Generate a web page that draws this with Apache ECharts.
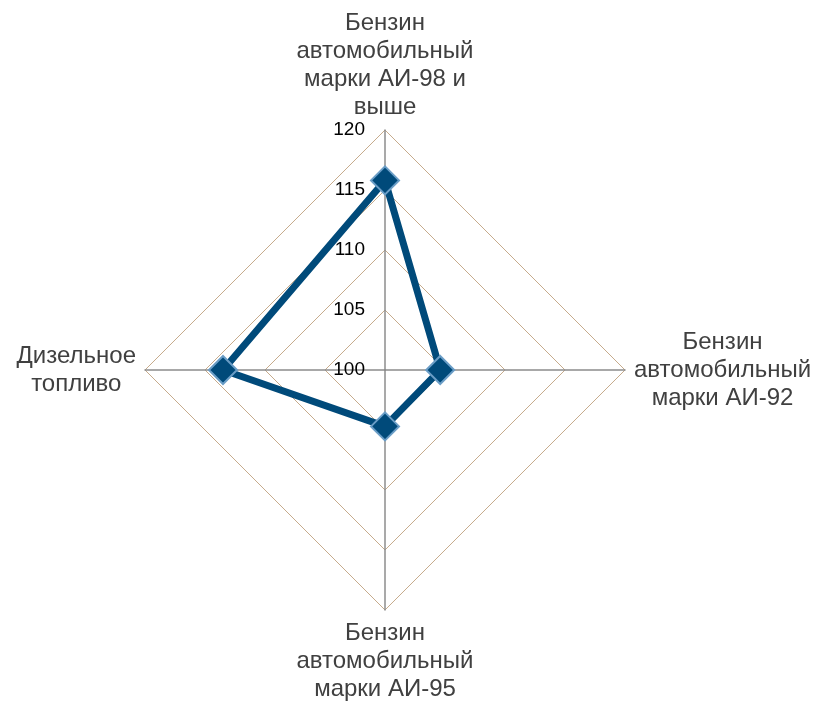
<!DOCTYPE html>
<html>
<head>
<meta charset="utf-8">
<script src="https://cdn.jsdelivr.net/npm/echarts@6/dist/echarts.min.js"></script>
<style>
html, body { margin: 0; padding: 0; background: #fff; }
#container { width: 835px; height: 701px; }
</style>
</head>
<body>
<div id="container"></div>
<script>
// radar axes run counterclockwise from the top, so listed: top, left, bottom, right
var indicators = ['Бензин\nавтомобильный\nмарки АИ-98 и\nвыше', 'Дизельное\nтопливо', 'Бензин\nавтомобильный\nмарки АИ-95', 'Бензин\nавтомобильный\nмарки АИ-92'];
var values = [115.8, 113.5, 104.7, 104.6];
var axisMin = 100;
var axisMax = 120;

var dom = document.getElementById("container");
var myChart = echarts.init(dom);

var indicatorList = indicators.map(function (name, i) {
    var item = { name: name, min: axisMin, max: axisMax };
    if (i === 0) {
        item.axisLabel = { show: true };
    }
    return item;
});

var option = {
    animation: false,
    radar: {
        center: [385, 370],
        radius: 240,
        startAngle: 90,
        shape: 'polygon',
        splitNumber: 4,
        nameGap: 9,
        indicator: indicatorList,
        axisName: {
            color: '#404040',
            fontFamily: 'Liberation Sans, Arial, sans-serif',
            fontSize: 24,
            formatter: function (name) {
                return name.split('\n').map(function (s) { return '{a|' + s + '}'; }).join('\n');
            },
            rich: {
                a: { align: 'center', fontSize: 24, lineHeight: 28, color: '#404040', fontFamily: 'Liberation Sans, Arial, sans-serif' }
            }
        },
        axisLine: { lineStyle: { color: '#8c8c8c', width: 1.5 } },
        splitLine: { lineStyle: { color: ['#c6ab8c'], width: 1 } },
        splitArea: { show: false },
        axisTick: { show: false },
        axisLabel: {
            show: false,
            color: '#000',
            fontSize: 19,
            fontFamily: 'Liberation Sans, Arial, sans-serif',
            margin: 20,
            showMinLabel: true,
            showMaxLabel: true
        }
    },
    series: [
        {
            type: 'radar',
            symbol: 'diamond',
            symbolSize: 28,
            lineStyle: { color: '#004a7a', width: 7 },
            itemStyle: { color: '#004a7a', borderColor: '#6a9dc6', borderWidth: 2 },
            data: [{ value: values }]
        }
    ]
};

if (option && typeof option === "object") {
    myChart.setOption(option, true);
}
</script>
</body>
</html>
